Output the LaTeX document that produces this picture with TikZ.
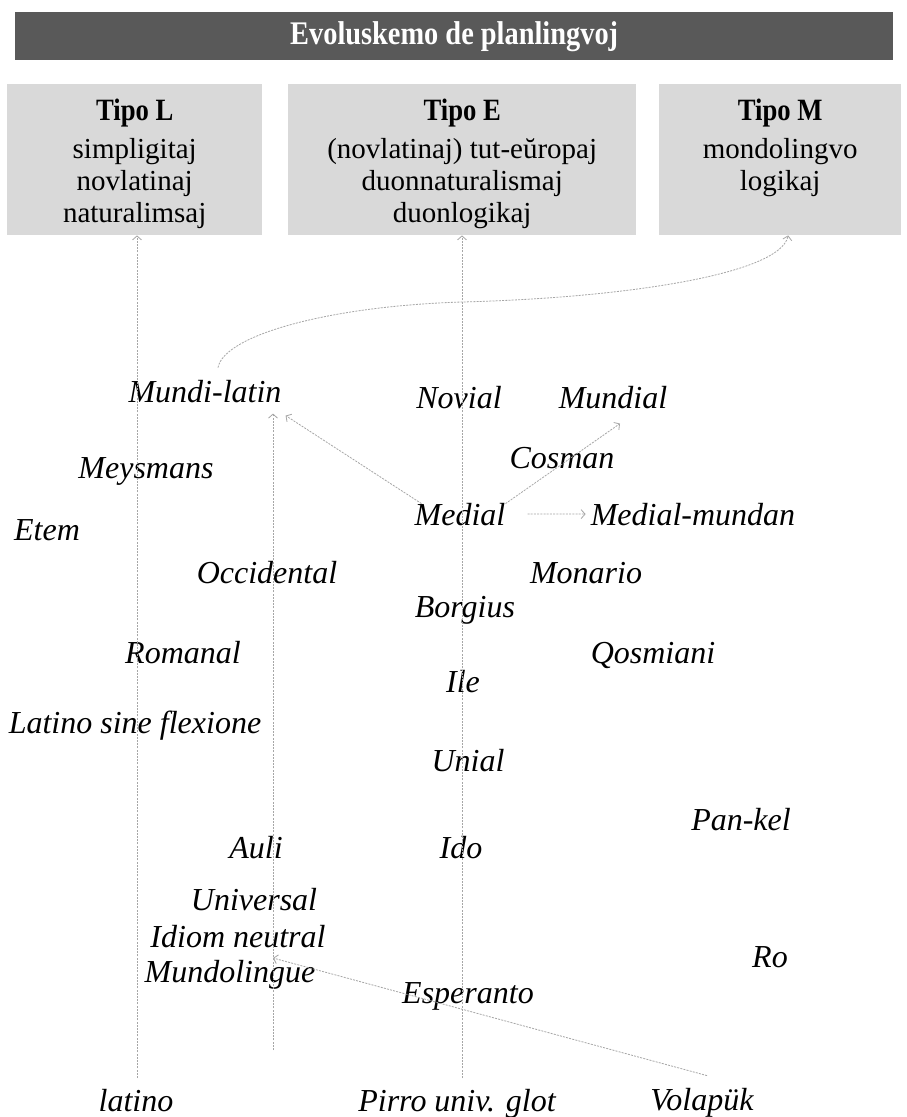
\documentclass[tikz,border=0pt]{standalone}
\usepackage{fontspec}
\setmainfont{Liberation Serif}
\newfontfamily\narrowserif[FakeStretch=0.86]{Liberation Serif}
\usetikzlibrary{arrows.meta,calc}

\definecolor{barfill}{HTML}{595959}
\definecolor{boxfill}{HTML}{D9D9D9}
\definecolor{linkgray}{HTML}{A6A6A6}

\tikzset{
  lang/.style={font=\fontsize{32}{38}\selectfont\itshape, inner sep=0pt, anchor=base},
  typebox/.style={fill=boxfill, draw=none, inner sep=0pt, anchor=north west, minimum height=151pt},
  typetext/.style={font=\fontsize{29}{32}\selectfont, align=center, anchor=north, inner sep=0pt},
  link/.style={draw=linkgray, line width=0.8pt, dash pattern=on 2pt off 1.2pt,
    -{Straight Barb[length=4pt,width=9pt,line width=0.8pt]}},
}

\begin{document}
\begin{tikzpicture}[x=1pt,y=-1pt]
\useasboundingbox (0,0) rectangle (906,1117);
\fill[white] (0,0) rectangle (906,1117);

% title bar
\node[fill=barfill, text=white, inner sep=0pt, anchor=north west,
      minimum width=878pt, minimum height=48pt,
      font=\narrowserif\fontsize{33}{34}\selectfont\bfseries] (title) at (15,12) {Evoluskemo de planlingvoj};

% the three type boxes
\node[typebox, minimum width=255pt] (boxL) at (7,84) {};
\node[typebox, minimum width=348pt] (boxE) at (288,84) {};
\node[typebox, minimum width=242pt] (boxM) at (659,84) {};

\node[typetext] (txtL) at (boxL.north |- 0,99) {{\narrowserif\fontsize{31}{32}\selectfont\bfseries Tipo L}\\[6pt] simpligitaj\\ novlatinaj\\ naturalimsaj};
\node[typetext] (txtE) at (boxE.north |- 0,99) {{\narrowserif\fontsize{31}{32}\selectfont\bfseries Tipo E}\\[6pt] (novlatinaj) tut-eŭropaj\\ duonnaturalismaj\\ duonlogikaj};
\node[typetext] (txtM) at (boxM.north |- 0,99) {{\narrowserif\fontsize{31}{32}\selectfont\bfseries Tipo M}\\[6pt] mondolingvo\\ logikaj};

% languages
\node[lang] (mundilatin) at (205,402) {Mundi-latin};
\node[lang] (novial) at (459,408) {Novial};
\node[lang] (mundial) at (613,408) {Mundial};
\node[lang] (meysmans) at (146,478) {Meysmans};
\node[lang] (cosman) at (562,468) {Cosman};
\node[lang] (etem) at (47,540) {Etem};
\node[lang] (medial) at (460,525) {Medial};
\node[lang] (medialmundan) at (693,525) {Medial-mundan};
\node[lang] (occidental) at (267,583) {Occidental};
\node[lang] (monario) at (586,583) {Monario};
\node[lang] (borgius) at (465,617) {Borgius};
\node[lang] (romanal) at (183,663) {Romanal};
\node[lang] (qosmiani) at (653,663) {Qosmiani};
\node[lang] (ile) at (463,692) {Ile};
\node[lang] (lsf) at (135,733) {Latino sine flexione};
\node[lang] (unial) at (468,771) {Unial};
\node[lang] (pankel) at (741,830) {Pan-kel};
\node[lang] (auli) at (256,858) {Auli};
\node[lang] (ido) at (461,858) {Ido};
\node[lang] (universal) at (254,910) {Universal};
\node[lang] (idiom) at (238,947) {Idiom neutral};
\node[lang] (mundolingue) at (230,982) {Mundolingue};
\node[lang] (ro) at (770,967) {Ro};
\node[lang] (esperanto) at (468,1003) {Esperanto};
\node[lang] (latino) at (136,1111) {latino};
\node[lang] (pirro) at (457,1111) {Pirro univ. glot};
\node[lang] (volapuk) at (702,1110) {Volapük};

% free ends of the long vertical lines
\coordinate (lfoot) at (137,1078);
\coordinate (efoot) at (462,1078);
\coordinate (mfoot) at (273,1050);
\coordinate (mjoin) at (273,958);

% vertical descent lines
\draw[link] (lfoot) -- (lfoot |- boxL.south);
\draw[link] (efoot) -- (efoot |- boxE.south);
\draw[link] (mfoot) -- ($(mfoot |- mundilatin.south)+(0,11)$);

% Mundi-latin towards type M
\draw[link] ([shift={(13,-12)}]mundilatin.north)
  .. controls (224,335) and (330,306) .. (462,302)
  .. controls (620,298) and (780,275) .. ([xshift=8pt]boxM.south);

% branches from Medial
\draw[link] ([xshift=7pt,yshift=-1pt]medial.north west) -- ([shift={(4,13)}]mundilatin.south east);
\draw[link] ([yshift=-1pt]medial.north east) -- ([shift={(7,15)}]mundial.south);
\draw[link] ([xshift=22pt]medial.east) -- ([xshift=-5pt]medialmundan.west);

% Volapük towards the middle line
\draw[link] ([shift={(5,-12)}]volapuk.north) -- (mjoin);
\end{tikzpicture}
\end{document}
